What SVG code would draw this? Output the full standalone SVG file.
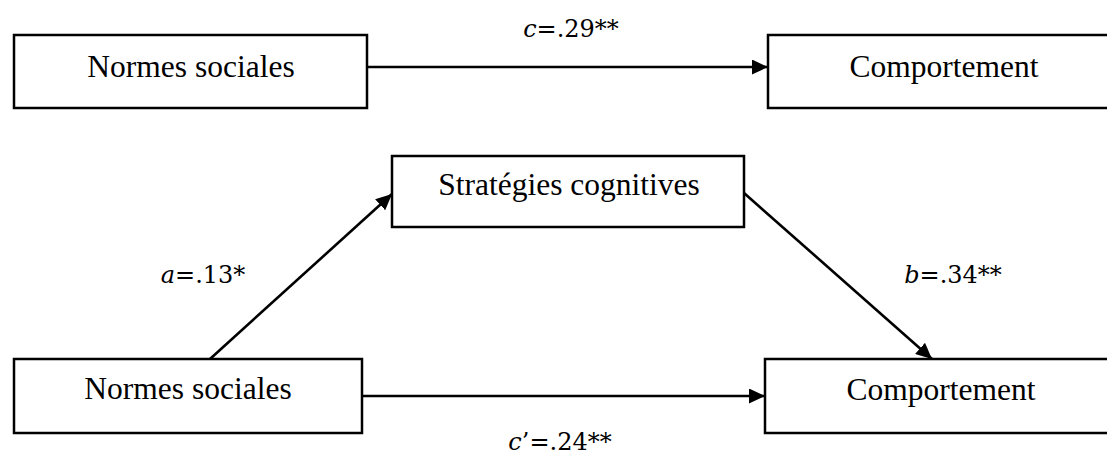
<svg xmlns="http://www.w3.org/2000/svg" width="1107" height="454" viewBox="0 0 1107 454">
<style>
.box{fill:#fff;stroke:#000;stroke-width:2.5}
.lbl{font-family:"Liberation Serif","Times New Roman",serif;font-size:31.5px;fill:#000;text-anchor:middle}
.coef{font-family:"DejaVu Serif",serif;font-size:24px;fill:#000;text-anchor:middle}
.conn{stroke:#000;stroke-width:2.6;fill:none;marker-end:url(#ah)}
</style>
<defs>
<marker id="ah" markerUnits="userSpaceOnUse" markerWidth="17" markerHeight="15" refX="16" refY="7.5" orient="auto">
<path d="M0,0 L16,7.5 L0,15 z" fill="#000"/>
</marker>
</defs>
<rect width="1107" height="454" fill="#fff"/>
<g id="connectors">
<line class="conn" x1="367" y1="67" x2="768" y2="67"/>
<line class="conn" x1="210" y1="359" x2="392" y2="194"/>
<line class="conn" x1="744" y1="193" x2="932" y2="359"/>
<line class="conn" x1="362" y1="396" x2="765" y2="396"/>
</g>
<g id="node-normes-top">
<rect class="box" x="14" y="35" width="353" height="73"/>
<text class="lbl" x="191" y="77">Normes sociales</text>
</g>
<g id="node-comportement-top">
<rect class="box" x="768" y="35" width="360" height="73"/>
<text class="lbl" x="944" y="77">Comportement</text>
</g>
<g id="node-strategies">
<rect class="box" x="392" y="156" width="352" height="71"/>
<text class="lbl" x="569" y="195">Stratégies cognitives</text>
</g>
<g id="node-normes-bottom">
<rect class="box" x="14" y="359" width="348" height="74"/>
<text class="lbl" x="188" y="399">Normes sociales</text>
</g>
<g id="node-comportement-bottom">
<rect class="box" x="765" y="359" width="360" height="74"/>
<text class="lbl" x="941" y="400">Comportement</text>
</g>
<g id="labels">
<text class="coef" x="571" y="37"><tspan font-style="italic">c</tspan>=.29**</text>
<text class="coef" x="203" y="283"><tspan font-style="italic">a</tspan>=.13*</text>
<text class="coef" x="953" y="283"><tspan font-style="italic">b</tspan>=.34**</text>
<text class="coef" x="560" y="450"><tspan font-style="italic">c</tspan>’=.24**</text>
</g>
</svg>
